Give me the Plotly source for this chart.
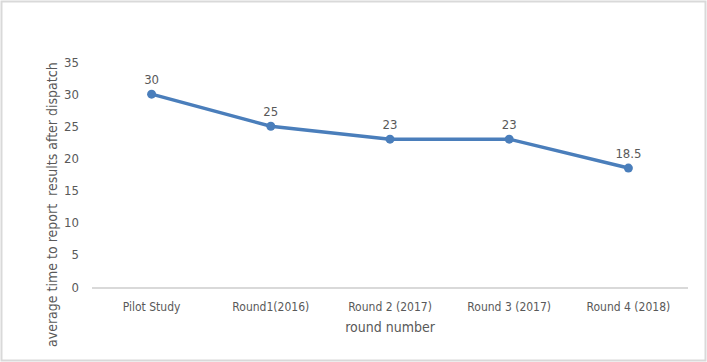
import plotly.graph_objects as go

categories = ["Pilot Study", "Round1(2016)", "Round 2 (2017)", "Round 3 (2017)", "Round 4 (2018)"]
values = [30, 25, 23, 23, 18.5]
value_labels = ["30", "25", "23", "23", "18.5"]
y_ticks = [0, 5, 10, 15, 20, 25, 30, 35]

FONT = "DejaVu Sans Condensed, Roboto, sans-serif"
GRAY = "#595959"
W, H = 707, 362
L, R, T, B = 92, 19, 62, 75
pw, ph = W - L - R, H - T - B

fig = go.Figure()
fig.add_trace(go.Scatter(
    x=categories, y=values, mode="lines+markers+text",
    text=value_labels, textposition="top center",
    textfont=dict(family=FONT, size=13, color=GRAY),
    line=dict(color="#4a7ebb", width=3.5),
    marker=dict(color="#4a7ebb", size=9),
    cliponaxis=False, showlegend=False,
))

fig.update_layout(
    width=W, height=H,
    margin=dict(l=L, r=R, t=T, b=B),
    paper_bgcolor="white", plot_bgcolor="white",
    font=dict(family=FONT, size=12, color=GRAY),
    xaxis=dict(
        type="category", range=[-0.5, 4.5], showgrid=False,
        showline=True, linecolor="#d9d9d9", linewidth=1.5,
        ticks="", ticklabelstandoff=8,
        tickfont=dict(family=FONT, size=12, color=GRAY),
        title=dict(text="round number", font=dict(family=FONT, size=14, color=GRAY), standoff=9),
        zeroline=False,
    ),
    yaxis=dict(
        range=[0, 35], tickvals=y_ticks, showgrid=False, zeroline=False,
        showline=False, ticks="", ticklabelstandoff=12,
        tickfont=dict(family=FONT, size=13, color=GRAY),
    ),
    annotations=[dict(
        text="average time to report  results after dispatch",
        xref="paper", yref="paper",
        x=(52 - L) / pw, y=1 - (205 - T) / ph,
        xanchor="center", yanchor="middle", textangle=-90, showarrow=False,
        font=dict(family=FONT, size=14, color=GRAY),
    )],
    shapes=[dict(
        type="rect", xref="paper", yref="paper",
        x0=-(L - 1.5) / pw, x1=1 + (R - 1.5) / pw,
        y0=-(B - 1.5) / ph, y1=1 + (T - 1.5) / ph,
        line=dict(color="#d9d9d9", width=2), layer="below",
    )],
)

fig.write_html("out.html", config={"displayModeBar": False})
with open("out.html", encoding="utf-8") as f:
    html = f.read()
html = html.replace("<head>", "<head><style>html,body{margin:0;padding:0;}</style>", 1)
with open("out.html", "w", encoding="utf-8") as f:
    f.write(html)
